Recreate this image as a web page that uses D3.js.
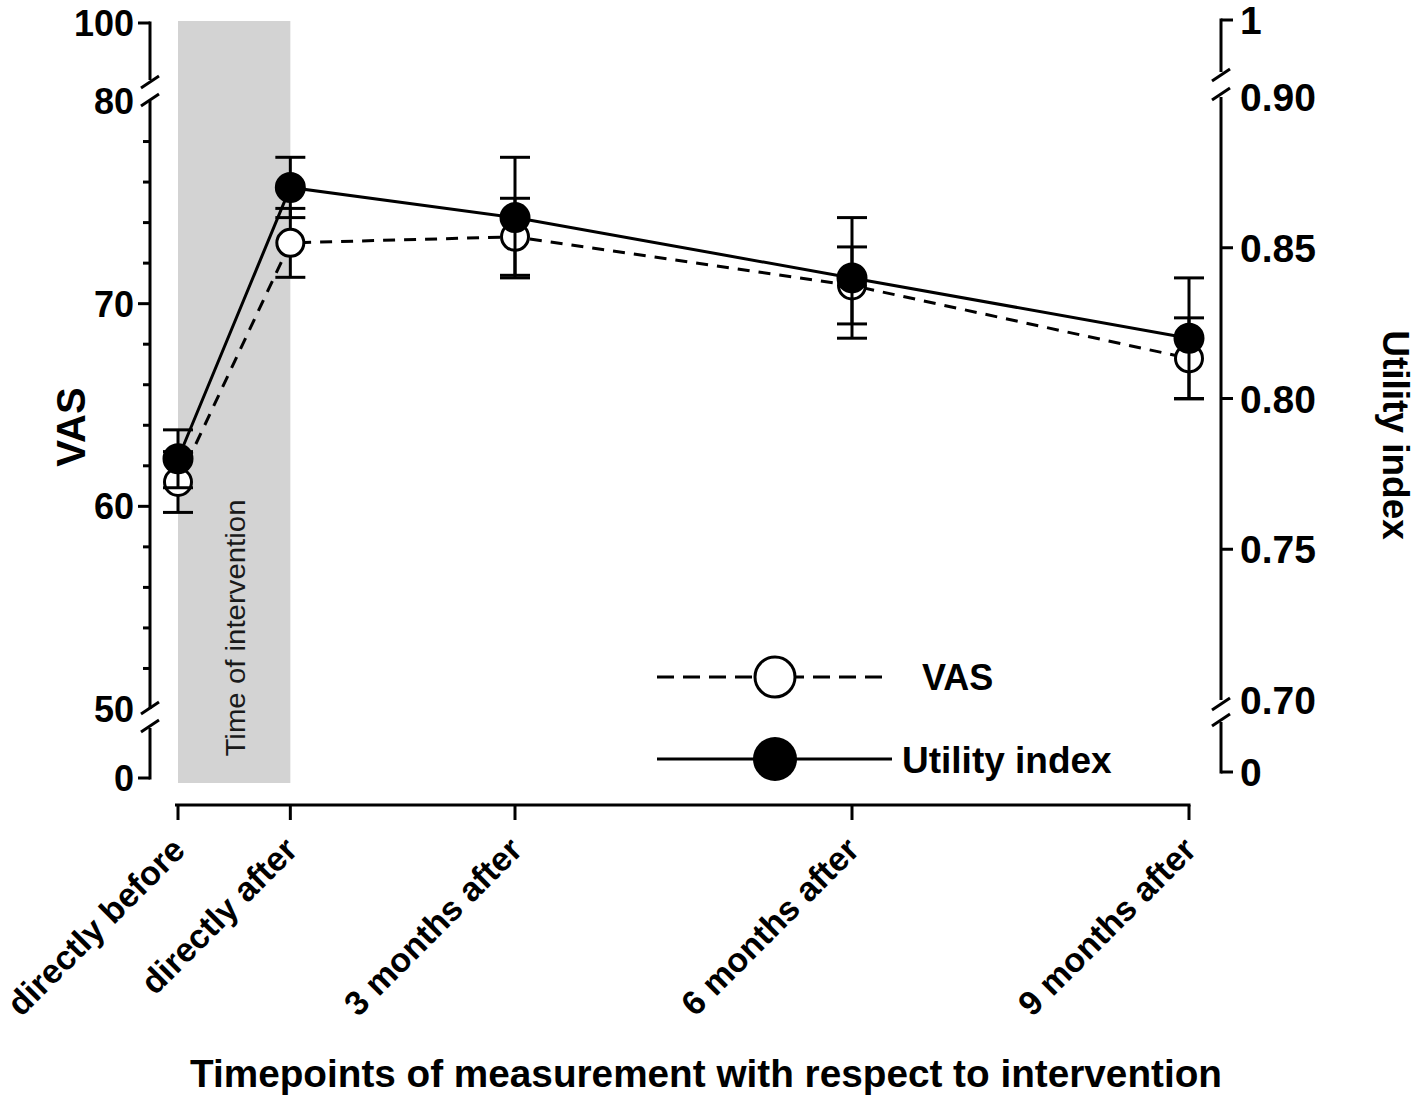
<!DOCTYPE html>
<html><head><meta charset="utf-8">
<script src="https://cdn.jsdelivr.net/npm/d3@7"></script>
<style>html,body{margin:0;padding:0;background:#fff;}</style>
</head><body>
<svg id="c" width="1416" height="1099"></svg>
<script>
// ---- data ----
const categories = ["directly before", "directly after", "3 months after", "6 months after", "9 months after"];
const timepoints = [0, 1, 3, 6, 9];
const vasMean = [61.2, 73.0, 73.3, 70.9, 67.3];
const vasErr  = [1.5, 1.7, 1.9, 1.9, 2.0];
const utilMean = [0.780, 0.870, 0.860, 0.840, 0.820];
const utilErr  = [0.0096, 0.010, 0.020, 0.020, 0.020];
const leftTicksMajor = [60, 70];
const leftTickLabels = [0, 50, 60, 70, 80, 100];
const rightTickLabels = [0, 0.70, 0.75, 0.80, 0.85, 0.90, 1];
const rightTickText = ["0", "0.70", "0.75", "0.80", "0.85", "0.90", "1"];

const FONT = "'Liberation Sans', Arial, Helvetica, sans-serif";
const svg = d3.select("#c");

const x = d3.scaleLinear().domain([0, 9]).range([178, 1189]);
const yL = d3.scaleLinear().domain([0, 50, 80, 100]).range([778, 709, 101, 23]);
const yR = d3.scaleLinear().domain([0, 0.70, 0.90, 1]).range([772, 700, 97, 20]);

const LX = 150, RX = 1221, XY = 805;
const SW = 3;

// shaded intervention band
svg.append("rect")
  .attr("x", x(0)).attr("width", x(1) - x(0))
  .attr("y", yL(100) - 2).attr("height", yL(0) + 5 - (yL(100) - 2))
  .attr("fill", "#d3d3d3");
svg.append("text")
  .attr("transform", `translate(${(x(0)+x(1))/2 + 11},${628}) rotate(-90)`)
  .attr("text-anchor", "middle")
  .attr("font-family", FONT).attr("font-size", 27)
  .attr("textLength", 257).attr("lengthAdjust", "spacingAndGlyphs")
  .attr("fill", "#1a1a1a")
  .text("Time of intervention");

const ax = svg.append("g").attr("stroke", "#000").attr("stroke-width", SW).attr("fill", "none");

function slash(g, cx, cy) {
  g.append("line").attr("x1", cx - 9).attr("y1", cy + 6).attr("x2", cx + 9).attr("y2", cy - 6);
}

// ---- left axis ----
ax.append("line").attr("x1", LX).attr("x2", LX).attr("y1", yL(100) - 1.5).attr("y2", yL(100) + 57);
slash(ax, LX, yL(100) + 59);
ax.append("line").attr("x1", LX).attr("x2", LX).attr("y1", yL(80)).attr("y2", yL(50));
slash(ax, LX, yL(80) - 1);
slash(ax, LX, yL(50) - 1);
ax.append("line").attr("x1", LX).attr("x2", LX).attr("y1", yL(0) - 50).attr("y2", yL(0) + 1.5);
slash(ax, LX, yL(0) - 52);
// ticks
ax.append("line").attr("x1", LX - 12).attr("x2", LX).attr("y1", yL(100)).attr("y2", yL(100));
ax.append("line").attr("x1", LX - 12).attr("x2", LX).attr("y1", yL(0)).attr("y2", yL(0));
const minor = d3.range(52, 80, 2);
minor.forEach(v => {
  const major = leftTicksMajor.includes(v);
  ax.append("line").attr("x1", LX - (major ? 12 : 7)).attr("x2", LX).attr("y1", yL(v)).attr("y2", yL(v));
});
svg.append("g").selectAll("text").data(leftTickLabels).join("text")
  .attr("x", 134).attr("y", d => yL(d)).attr("dy", "0.36em")
  .attr("text-anchor", "end")
  .attr("font-family", FONT).attr("font-weight", "bold").attr("font-size", 36)
  .text(d => d);

// ---- right axis ----
ax.append("line").attr("x1", RX).attr("x2", RX).attr("y1", yR(1) - 1.5).attr("y2", yR(1) + 52);
slash(ax, RX, yR(1) + 55);
ax.append("line").attr("x1", RX).attr("x2", RX).attr("y1", yR(0.90)).attr("y2", yR(0.70));
slash(ax, RX, yR(0.90) - 3);
slash(ax, RX, yR(0.70) + 4);
ax.append("line").attr("x1", RX).attr("x2", RX).attr("y1", yR(0) - 50).attr("y2", yR(0) + 1.5);
slash(ax, RX, yR(0) - 52);
[1, 0.85, 0.80, 0.75, 0].forEach(v => {
  ax.append("line").attr("x1", RX).attr("x2", RX + 12).attr("y1", yR(v)).attr("y2", yR(v));
});
svg.append("g").selectAll("text").data(rightTickLabels).join("text")
  .attr("x", 1240).attr("y", d => yR(d)).attr("dy", "0.36em")
  .attr("font-family", FONT).attr("font-weight", "bold").attr("font-size", 39)
  .text((d, i) => rightTickText[i]);

// ---- x axis ----
ax.append("line").attr("x1", x(0) - 3).attr("x2", x(9) + 1.5).attr("y1", XY).attr("y2", XY);
timepoints.forEach(t => {
  ax.append("line").attr("x1", x(t)).attr("x2", x(t)).attr("y1", XY).attr("y2", XY + 15);
});
svg.append("g").selectAll("text").data(categories).join("text")
  .attr("transform", (d, i) => `translate(${x(timepoints[i]) + 9},${852}) rotate(-45)`)
  .attr("text-anchor", "end")
  .attr("font-family", FONT).attr("font-weight", "bold").attr("font-size", 34)
  .text(d => d);

// axis titles
svg.append("text")
  .attr("transform", `translate(85,427) rotate(-90)`)
  .attr("text-anchor", "middle")
  .attr("font-family", FONT).attr("font-weight", "bold").attr("font-size", 40)
  .text("VAS");
svg.append("text")
  .attr("transform", `translate(1383,435) rotate(90)`)
  .attr("text-anchor", "middle")
  .attr("font-family", FONT).attr("font-weight", "bold").attr("font-size", 37)
  .text("Utility index");
svg.append("text")
  .attr("x", 706).attr("y", 1087)
  .attr("text-anchor", "middle")
  .attr("font-family", FONT).attr("font-weight", "bold").attr("font-size", 38)
  .attr("textLength", 1032).attr("lengthAdjust", "spacingAndGlyphs")
  .text("Timepoints of measurement with respect to intervention");

// ---- data series ----
function series(mean, err, y, dashed, filled) {
  const g = svg.append("g");
  const pts = timepoints.map((t, i) => ({ t, m: mean[i], e: err[i] }));
  // error bars
  const eb = g.append("g").attr("stroke", "#000").attr("stroke-width", SW);
  pts.forEach(p => {
    eb.append("line").attr("x1", x(p.t)).attr("x2", x(p.t)).attr("y1", y(p.m - p.e)).attr("y2", y(p.m + p.e));
    [p.m - p.e, p.m + p.e].forEach(v => {
      eb.append("line").attr("x1", x(p.t) - 15).attr("x2", x(p.t) + 15).attr("y1", y(v)).attr("y2", y(v));
    });
  });
  // line
  g.append("path").datum(pts)
    .attr("d", d3.line().x(p => x(p.t)).y(p => y(p.m)))
    .attr("fill", "none").attr("stroke", "#000").attr("stroke-width", SW)
    .attr("stroke-dasharray", dashed ? "12,9" : null);
  // markers
  g.selectAll("circle").data(pts).join("circle")
    .attr("cx", p => x(p.t)).attr("cy", p => y(p.m)).attr("r", filled ? 14 : 13.5)
    .attr("fill", filled ? "#000" : "#fff").attr("stroke", "#000").attr("stroke-width", SW);
}
series(vasMean, vasErr, yL, true, false);
series(utilMean, utilErr, yR, false, true);

// ---- legend ----
const lg = svg.append("g");
lg.append("line").attr("x1", 657).attr("x2", 890).attr("y1", 677).attr("y2", 677)
  .attr("stroke", "#000").attr("stroke-width", SW).attr("stroke-dasharray", "17,9");
lg.append("circle").attr("cx", 775).attr("cy", 677).attr("r", 20)
  .attr("fill", "#fff").attr("stroke", "#000").attr("stroke-width", SW);
lg.append("text").attr("x", 922).attr("y", 690)
  .attr("font-family", FONT).attr("font-weight", "bold").attr("font-size", 36).text("VAS");
lg.append("line").attr("x1", 657).attr("x2", 892).attr("y1", 759).attr("y2", 759)
  .attr("stroke", "#000").attr("stroke-width", SW);
lg.append("circle").attr("cx", 775).attr("cy", 759).attr("r", 22).attr("fill", "#000");
lg.append("text").attr("x", 902).attr("y", 773)
  .attr("font-family", FONT).attr("font-weight", "bold").attr("font-size", 37).text("Utility index");
</script>
</body></html>
